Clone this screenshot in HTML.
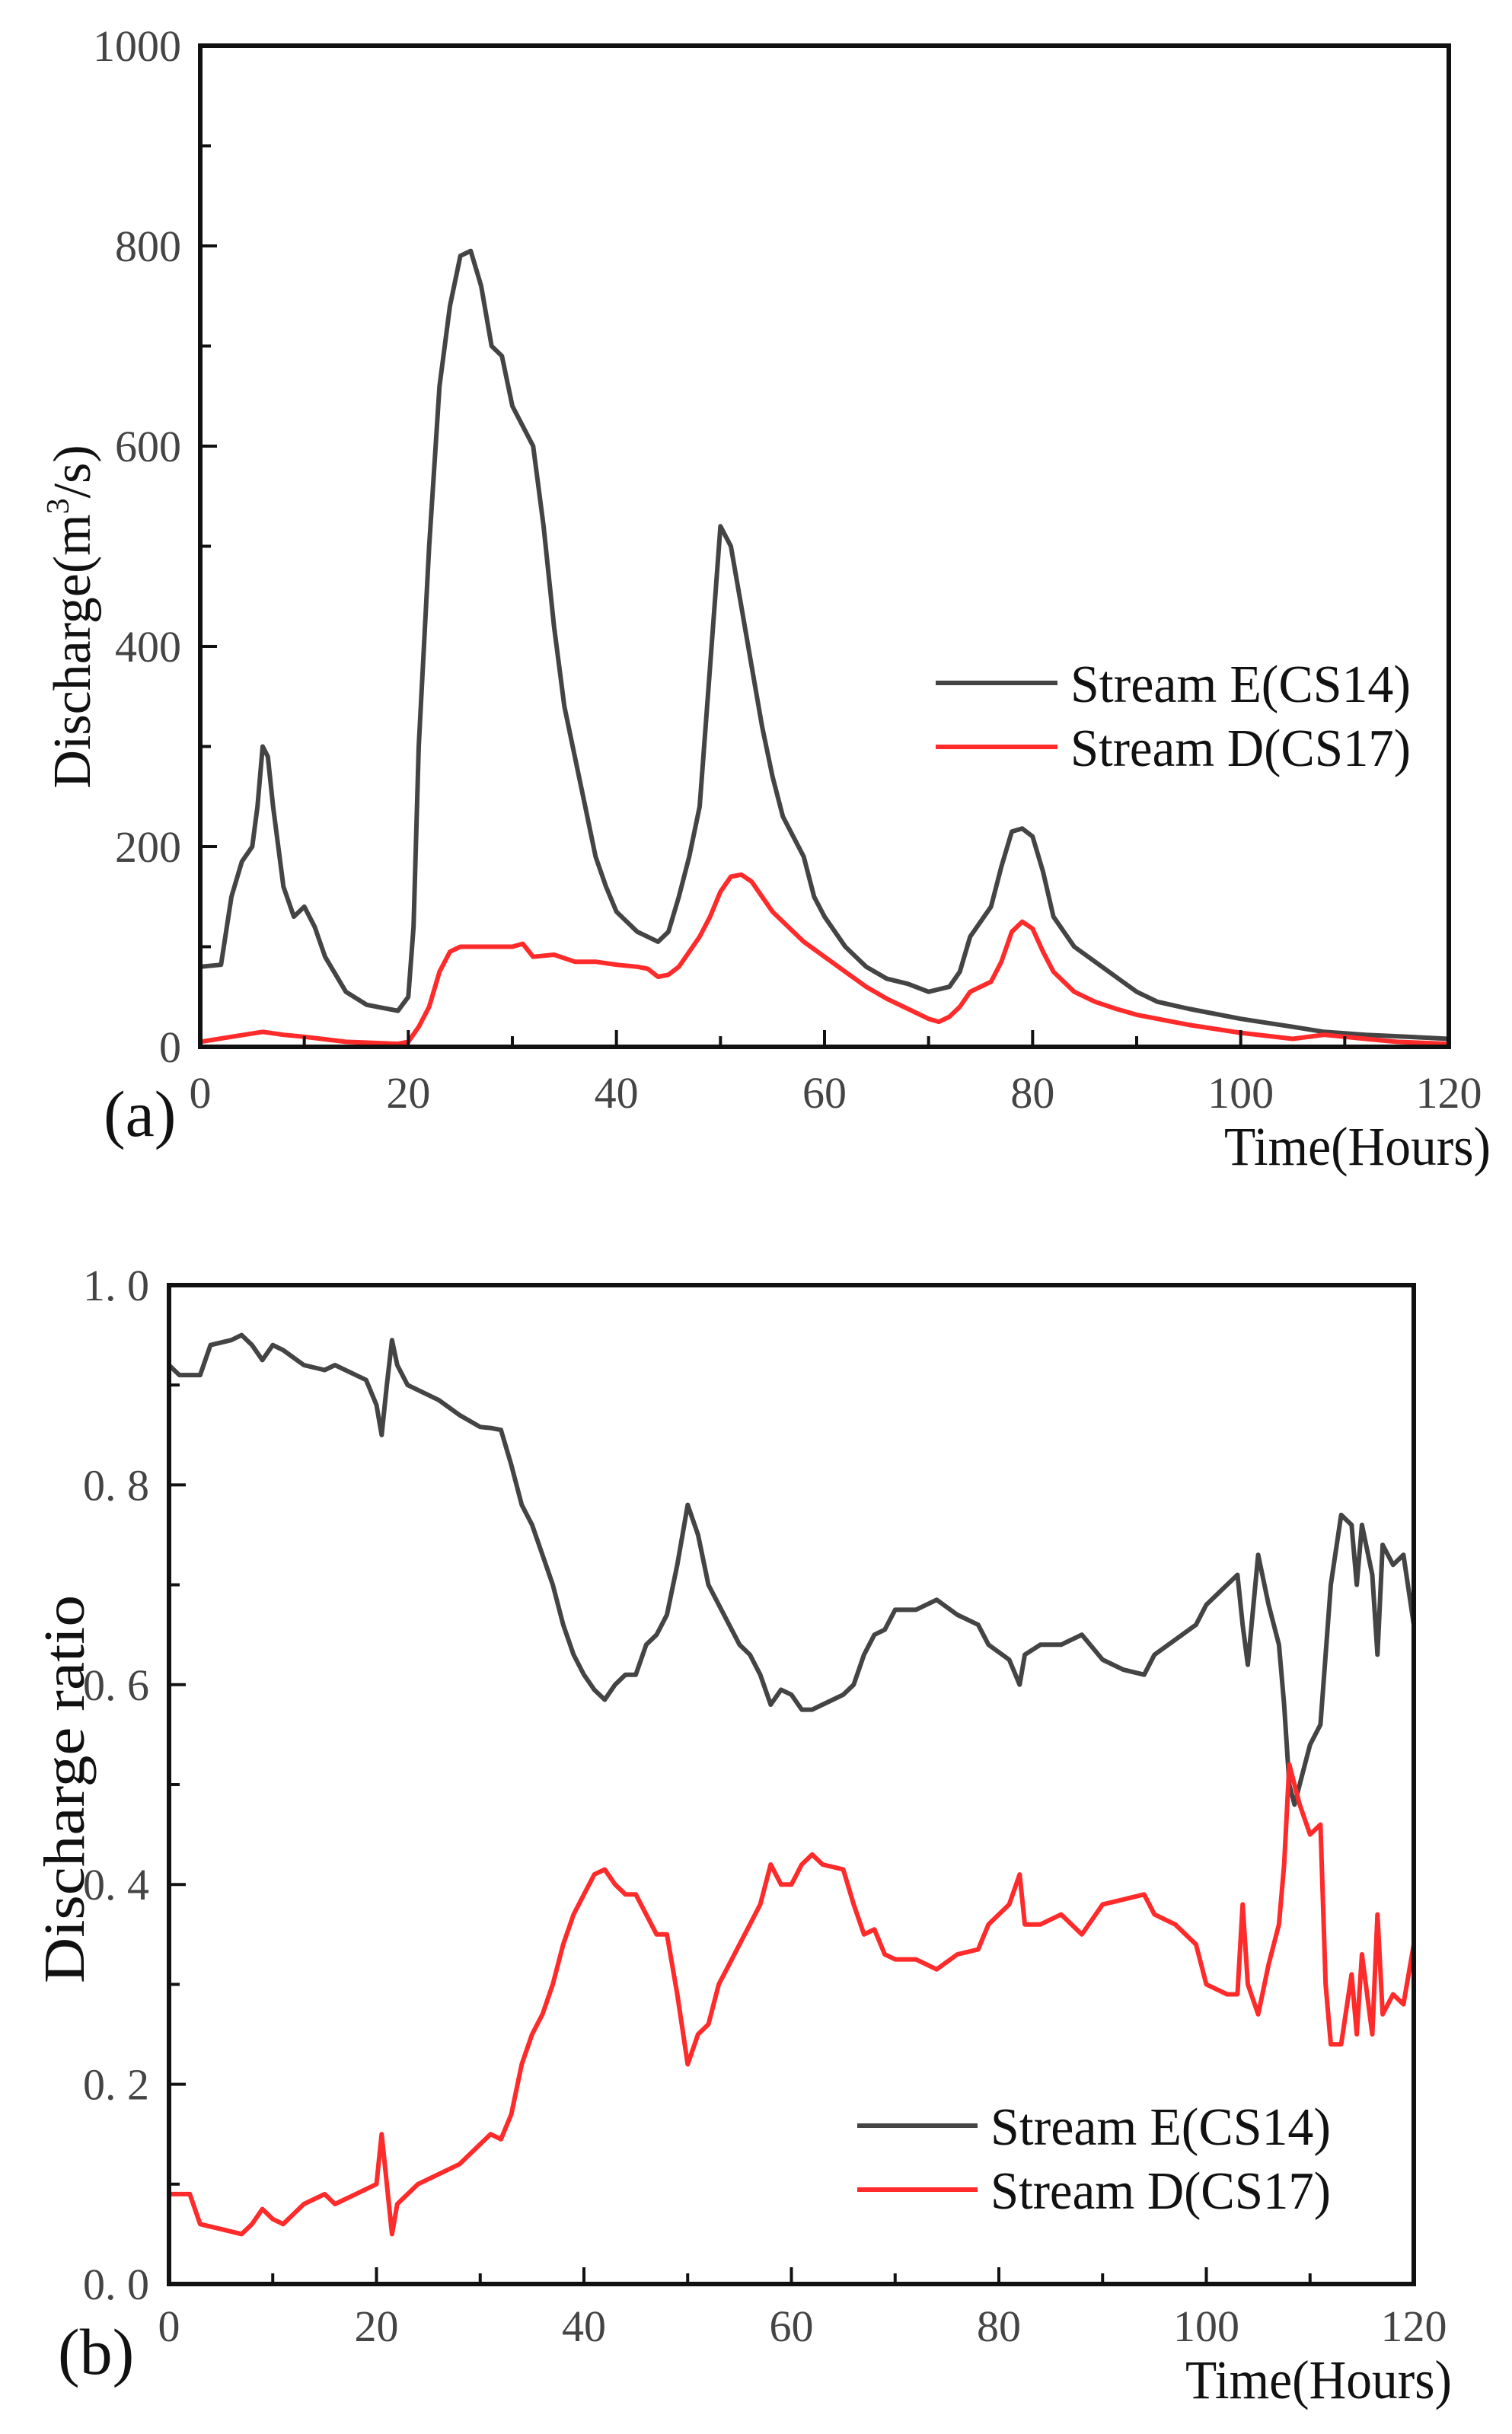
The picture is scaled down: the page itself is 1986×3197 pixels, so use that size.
<!DOCTYPE html>
<html><head><meta charset="utf-8"><style>
html,body{margin:0;padding:0;background:#fff}
svg{display:block}
text{font-family:"Liberation Serif",serif}
</style></head><body>
<svg id="fig" width="1986" height="3197" viewBox="0 0 1986 3197" xmlns="http://www.w3.org/2000/svg">
<g id="chartA"></g>
<g id="chartB"></g>
</svg>
<script>
// ---- Chart (a) data ----
const aE_t = [0,2,3,4,5,5.5,6,6.5,7,8,9,10,11,12,14,16,18,19,20,20.5,21,22,23,24,25,26,27,28,29,30,31,32,33,34,35,36,37,38,39,40,42,44,45,46,47,48,49,50,51,52,53,54,55,56,58,59,60,62,64,66,68,70,72,73,74,75,76,77,78,79,80,81,82,84,86,88,90,92,95,100,105,108,112,116,120];
const aE_v = [80,82,150,185,200,240,300,290,240,160,130,140,120,90,55,42,38,36,50,120,300,500,660,740,790,795,760,700,690,640,620,600,520,420,340,290,240,190,160,135,115,105,115,150,190,240,380,520,500,440,380,320,270,230,190,150,130,100,80,68,63,55,60,75,110,125,140,180,215,218,210,175,130,100,85,70,55,45,38,28,20,15,12,10,8];
const aD_t = [0,3,6,8,10,14,19,20,21,22,23,24,25,30,31,32,34,36,38,40,42,43,44,45,46,48,49,50,51,52,53,54,55,56,58,60,62,64,66,68,70,71,72,73,74,75,76,77,78,79,80,81,82,84,86,88,90,95,100,105,108,110,112,115,120];
const aD_v = [5,10,15,12,10,5,3,5,20,40,75,95,100,100,103,90,92,85,85,82,80,78,70,72,80,110,130,155,170,172,165,150,135,125,105,90,75,60,48,38,28,25,30,40,55,60,65,85,115,125,118,95,75,55,45,38,32,22,14,8,12,10,8,5,3];
const aXTicks = [0,20,40,60,80,100,120];
const aYTicks = [0,200,400,600,800,1000];
const aYTickLabels = ["0","200","400","600","800","1000"];

// ---- Chart (b) data ----
const bE_t = [0,1,3,4,6,7,8,9,10,11,13,15,16,18,19,20,20.5,21,21.5,22,23,26,28,30,31,32,33,34,35,36,37,38,39,40,41,42,43,44,45,46,47,48,49,50,51,52,53,54,55,56,57,58,59,60,61,62,63,64,65,66,67,68,69,70,72,74,76,78,79,81,82,82.5,84,86,88,90,92,94,95,97,99,100,102,103,103.5,104,105,106,107,107.5,108,108.5,109,110,111,112,113,114,114.5,115,116,116.5,117,118,119,120];
const bE_v = [0.92,0.91,0.91,0.94,0.945,0.95,0.94,0.925,0.94,0.935,0.92,0.915,0.92,0.91,0.905,0.88,0.85,0.9,0.945,0.92,0.9,0.885,0.87,0.858,0.857,0.855,0.82,0.78,0.76,0.73,0.7,0.66,0.63,0.61,0.595,0.585,0.6,0.61,0.61,0.64,0.65,0.67,0.72,0.78,0.75,0.7,0.68,0.66,0.64,0.63,0.61,0.58,0.595,0.59,0.575,0.575,0.58,0.585,0.59,0.6,0.63,0.65,0.655,0.675,0.675,0.685,0.67,0.66,0.64,0.625,0.6,0.63,0.64,0.64,0.65,0.625,0.615,0.61,0.63,0.645,0.66,0.68,0.7,0.71,0.66,0.62,0.73,0.68,0.64,0.58,0.5,0.48,0.5,0.54,0.56,0.7,0.77,0.76,0.7,0.76,0.71,0.63,0.74,0.72,0.73,0.66];
const bD_t = [0,2,3,5,7,8,9,10,11,13,15,16,18,20,20.5,21,21.5,22,24,26,28,30,31,32,33,34,35,36,37,38,39,40,41,42,43,44,45,46,47,48,49,50,51,52,53,54,55,56,57,58,59,60,61,62,63,65,66,67,68,69,70,72,74,76,78,79,81,82,82.5,84,86,88,90,92,94,95,97,99,100,102,103,103.5,104,105,106,107,107.5,108,109,110,111,111.5,112,113,114,114.5,115,116,116.5,117,118,119,120];
const bD_v = [0.09,0.09,0.06,0.055,0.05,0.06,0.075,0.065,0.06,0.08,0.09,0.08,0.09,0.1,0.15,0.1,0.05,0.08,0.1,0.11,0.12,0.14,0.15,0.145,0.17,0.22,0.25,0.27,0.3,0.34,0.37,0.39,0.41,0.415,0.4,0.39,0.39,0.37,0.35,0.35,0.29,0.22,0.25,0.26,0.3,0.32,0.34,0.36,0.38,0.42,0.4,0.4,0.42,0.43,0.42,0.415,0.38,0.35,0.355,0.33,0.325,0.325,0.315,0.33,0.335,0.36,0.38,0.41,0.36,0.36,0.37,0.35,0.38,0.385,0.39,0.37,0.36,0.34,0.3,0.29,0.29,0.38,0.3,0.27,0.32,0.36,0.42,0.52,0.48,0.45,0.46,0.3,0.24,0.24,0.31,0.25,0.33,0.25,0.37,0.27,0.29,0.28,0.34];
const bXTicks = [0,20,40,60,80,100,120];
const bYTicks = [0,0.2,0.4,0.6,0.8,1.0];
const bYTickLabels = ["0. 0","0. 2","0. 4","0. 6","0. 8","1. 0"];

const NS = "http://www.w3.org/2000/svg";
function mk(parent, tag, attrs, txt){
  const e = document.createElementNS(NS, tag);
  for (const k in attrs) e.setAttribute(k, attrs[k]);
  if (txt !== undefined) e.textContent = txt;
  parent.appendChild(e);
  return e;
}

function drawChart(g, cfg){
  const L=cfg.L,R=cfg.R,T=cfg.T,B=cfg.B;
  const sx = t => L + (t - cfg.xmin)/(cfg.xmax-cfg.xmin)*(R-L);
  const sy = v => B - (v - cfg.ymin)/(cfg.ymax-cfg.ymin)*(B-T);
  cfg.series.forEach(s=>{
    let d = s.t.map((t,i)=>(i?"L":"M")+sx(t).toFixed(1)+","+sy(s.v[i]).toFixed(1)).join("");
    const p = mk(g,"path",{d:d,fill:"none",stroke:s.color,"stroke-width":6,"stroke-linejoin":"round"});
    
    
  });
  const f = mk(g,"rect",{x:L,y:T,width:R-L,height:B-T,fill:"none",stroke:"#111","stroke-width":6});
  
  
  const xt = mk(g,"g",{});
  
  
  for (let t=cfg.xmin; t<=cfg.xmax; t+=cfg.xminor){
    const major = cfg.xTicks.indexOf(t) >= 0;
    mk(xt,"line",{x1:sx(t),x2:sx(t),y1:B,y2:B-(major?22:14),stroke:"#111","stroke-width":4});
  }
  cfg.xTicks.forEach(t=>{
    const tx = mk(xt,"text",{x:sx(t),y:cfg.xLabY,"font-size":58,"text-anchor":"middle",fill:"#444"},String(t));
    
    
  });
  const yt = mk(g,"g",{});
  
  
  const n = Math.round((cfg.ymax-cfg.ymin)/cfg.yminor);
  for (let i=0;i<=n;i++){
    const v = cfg.ymin + i*cfg.yminor;
    const major = (i % cfg.yMajorEvery) === 0;
    mk(yt,"line",{x1:L,x2:L+(major?22:14),y1:sy(v),y2:sy(v),stroke:"#111","stroke-width":4});
  }
  cfg.yTicks.forEach((v,i)=>{
    const tx = mk(yt,"text",{x:cfg.yLabX,y:sy(v)+20,"font-size":58,"text-anchor":"end",fill:"#444"},cfg.yTickLabels[i]);
    
    
  });
  const lg = mk(g,"g",{});
  
  
  cfg.series.forEach((s,i)=>{
    const y = cfg.legY + i*cfg.legGap;
    mk(lg,"line",{x1:cfg.legX1,x2:cfg.legX2,y1:y,y2:y,stroke:s.color,"stroke-width":6});
    const tx = mk(lg,"text",{x:cfg.legTX,y:y+25,"font-size":70,fill:"#111",textLength:447,lengthAdjust:"spacingAndGlyphs"},s.label);
    
    
  });
  const pl = mk(g,"text",{x:cfg.panX,y:cfg.panY,"font-size":86,fill:"#111"},cfg.panel);
  
  
  const xtt = mk(g,"text",{x:cfg.xtX,y:cfg.xtY,"font-size":72,fill:"#111",textLength:350,lengthAdjust:"spacingAndGlyphs"},"Time(Hours)");
  
  
  const ytt = mk(g,"text",{x:0,y:0,"font-size":cfg.ytSize,fill:"#111","text-anchor":"middle",transform:`translate(${cfg.ytX},${cfg.ytY}) rotate(-90)`});
  
  
  if (cfg.yTitleSup){
    ytt.appendChild(document.createTextNode("Discharge(m"));
    mk(ytt,"tspan",{"font-size":42,dy:-28},"3");
    mk(ytt,"tspan",{dy:28},"/s)");
  } else {
    ytt.setAttribute("textLength", 510);
    ytt.setAttribute("lengthAdjust", "spacingAndGlyphs");
    ytt.textContent = cfg.yTitle;
  }
}

drawChart(document.getElementById("chartA"), {
  L:263,R:1903,T:60,B:1375,xmin:0,xmax:120,ymin:0,ymax:1000,xminor:10,yminor:100,yMajorEvery:2,
  xTicks:aXTicks,yTicks:aYTicks,yTickLabels:aYTickLabels,xLabY:1455,yLabX:238,
  series:[{t:aE_t,v:aE_v,color:"#444444",name:"series-stream-e",label:"Stream E(CS14)"},
          {t:aD_t,v:aD_v,color:"#ff2a2a",name:"series-stream-d",label:"Stream D(CS17)"}],
  legY:897,legGap:84,legX1:1229,legX2:1389,legTX:1406,
  panel:"(a)",panX:136,panY:1492,xtX:1608,xtY:1530,ytX:118,ytY:810,ytSize:70,yTitleSup:true
});
drawChart(document.getElementById("chartB"), {
  L:222,R:1857,T:1688,B:3000,xmin:0,xmax:120,ymin:0,ymax:1.0,xminor:10,yminor:0.1,yMajorEvery:2,
  xTicks:bXTicks,yTicks:bYTicks,yTickLabels:bYTickLabels,xLabY:3075,yLabX:196,
  series:[{t:bE_t,v:bE_v,color:"#444444",name:"series-stream-e-ratio",label:"Stream E(CS14)"},
          {t:bD_t,v:bD_v,color:"#ff2a2a",name:"series-stream-d-ratio",label:"Stream D(CS17)"}],
  legY:2792,legGap:84,legX1:1126,legX2:1284,legTX:1301,
  panel:"(b)",panX:76,panY:3118,xtX:1557,xtY:3150,ytX:110,ytY:2350,ytSize:76,yTitle:"Discharge ratio"
});
</script>
</body></html>
